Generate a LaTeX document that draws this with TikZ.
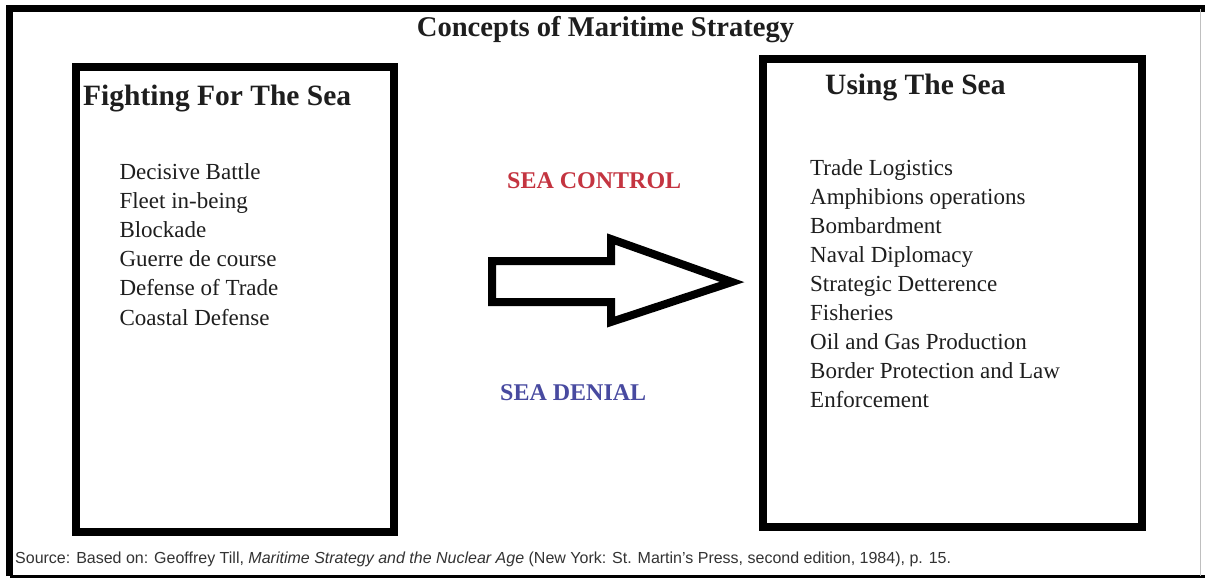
\documentclass[tikz,border=0pt]{standalone}
\usepackage{fontspec}
\setmainfont{Liberation Serif}
\setsansfont{Liberation Sans}
\definecolor{ctrlred}{RGB}{196,52,64}
\definecolor{denblue}{RGB}{72,74,160}
\definecolor{txt}{RGB}{30,30,30}
\begin{document}
\begin{tikzpicture}[x=1pt,y=-1pt,
  frame/.style={draw=black,line width=8pt,line join=miter},
  item/.style={anchor=base west,inner sep=0pt,text=txt,font=\fontsize{23}{26}\selectfont},
  head/.style={anchor=base west,inner sep=0pt,text=txt,font=\fontsize{29.5}{34}\selectfont\bfseries},
  tag/.style={anchor=base west,inner sep=0pt,font=\fontsize{24}{28}\selectfont\bfseries}]
\useasboundingbox (0,0) rectangle (1205,578);
\fill[white] (0,0) rectangle (1205,578);
% outer frame
\coordinate (oTL) at (9.5,9);
\coordinate (oTR) at (1205,9);
\coordinate (oBL) at (9.5,576);
\coordinate (oBR) at (1205,576);
\draw[line width=7pt] (oBL) -- (oTL) -- (oTR);
\draw[line width=3pt] (oBL) -- (oBR);
\draw[line width=0.8pt,black!25] (1200.5,9) -- (1200.5,576);
% title
\node[anchor=base,inner sep=0pt,text=txt,font=\fontsize{28.6}{32}\selectfont\bfseries] (title) at (605.5,37) {Concepts of Maritime Strategy};
% boxes
\node[frame,minimum width=318pt,minimum height=465pt,inner sep=0pt] (leftbox) at (235,299.5) {};
\node[frame,minimum width=379pt,minimum height=467.5pt,inner sep=0pt] (rightbox) at (952.5,292.75) {};
% headings
\node[head] (lhead) at (83,105) {Fighting For The Sea};
\node[head] (rhead) at (825,95) {Using The Sea};
% left list
\foreach \t [count=\i from 0] in {Decisive Battle,Fleet in-being,Blockade,Guerre de course,Defense of Trade,Coastal Defense}
  \node[item] (l\i) at (119.3,179+29.2*\i) {\t};
% right list
\foreach \t [count=\i from 0] in {Trade Logistics,Amphibions operations,Bombardment,Naval Diplomacy,Strategic Detterence,Fisheries,Oil and Gas Production,Border Protection and Law,Enforcement}
  \node[item] (r\i) at (810,175+29.1*\i) {\t};
% tags
\node[tag,text=ctrlred] (ctrl) at (507,188) {SEA CONTROL};
\node[tag,text=denblue] (deny) at (500,400) {SEA DENIAL};
% big arrow
\draw[line width=8pt,line join=miter,miter limit=10]
  (492,261) -- (611,261) -- (611,239) -- (732,282) -- (611,322) -- (611,302) -- (492,302) -- cycle;
% source
\node[anchor=base west,inner sep=0pt,text=black!80,font=\sffamily\fontsize{16}{18}\selectfont] (src) at (15,563)
  {Source: Based on: Geoffrey Till, \textit{Maritime Strategy and the Nuclear Age} (New York: St. Martin's Press, second edition, 1984), p. 15.};
\end{tikzpicture}
\end{document}
